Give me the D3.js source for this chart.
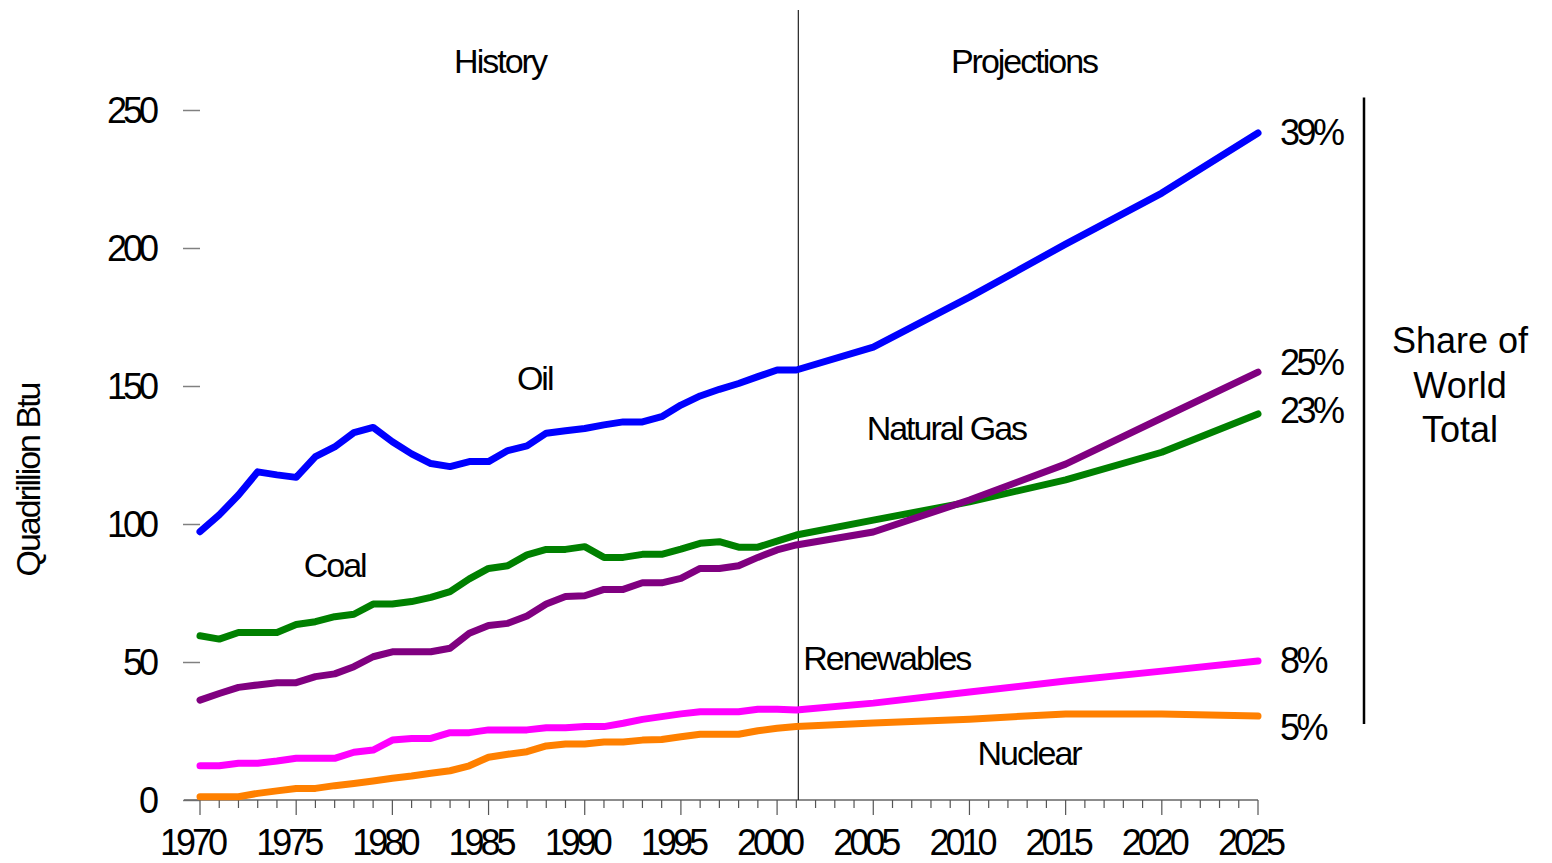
<!DOCTYPE html>
<html>
<head>
<meta charset="utf-8">
<script src="https://cdn.jsdelivr.net/npm/d3@7"></script>
<style>
  body { margin: 0; background: #fff; }
  svg { font-family: "Liberation Sans", Arial, sans-serif; }
  .axis text { font-size: 36px; letter-spacing: -4px; fill: #000; }
  .label { font-size: 34px; letter-spacing: -2px; fill: #000; }
</style>
</head>
<body>
<div id="chart"></div>
<script>

// Data (quadrillion Btu)
var years = d3.range(1970, 2002).concat([2005, 2010, 2015, 2020, 2025]);

var oil = [97.2, 103.3, 110.5, 118.9, 117.8, 116.9, 124.4, 127.9, 133.1, 135.0,
    129.8, 125.4, 121.9, 120.8, 122.6, 122.6, 126.6, 128.3, 132.9, 133.8,
    134.6, 135.9, 137.0, 137.0, 138.9, 143.1, 146.4, 148.8, 150.9, 153.4,
    155.8, 155.8, 164.1, 182.2, 201.4, 219.9, 241.7];

var coal = [59.5, 58.3, 60.7, 60.7, 60.7, 63.6, 64.6, 66.4, 67.3, 71.0,
    71.0, 71.9, 73.4, 75.5, 80.1, 83.9, 84.9, 88.8, 90.8, 90.8,
    91.8, 87.9, 87.9, 89.0, 89.0, 90.9, 93.0, 93.6, 91.6, 91.6,
    93.8, 96.0, 101.4, 108.0, 116.0, 126.0, 139.9];

var gas = [36.2, 38.6, 40.8, 41.7, 42.5, 42.5, 44.7, 45.7, 48.3, 51.9,
    53.7, 53.7, 53.7, 55.0, 60.4, 63.2, 64.0, 66.7, 71.0, 73.7,
    74.0, 76.3, 76.3, 78.7, 78.7, 80.3, 83.9, 83.9, 84.9, 87.9,
    90.6, 92.4, 97.1, 108.7, 121.7, 138.4, 155.0];

var renewables = [12.4, 12.4, 13.3, 13.3, 14.1, 15.1, 15.1, 15.1, 17.3, 18.1,
    21.7, 22.3, 22.3, 24.4, 24.4, 25.4, 25.4, 25.4, 26.2, 26.2,
    26.6, 26.6, 27.8, 29.2, 30.2, 31.2, 32.0, 32.0, 32.0, 32.9,
    32.9, 32.6, 35.1, 39.1, 43.1, 46.7, 50.4];

var nuclear = [1.2, 1.2, 1.2, 2.4, 3.3, 4.2, 4.2, 5.2, 6.0, 6.9,
    7.9, 8.7, 9.7, 10.6, 12.4, 15.5, 16.6, 17.5, 19.6, 20.3,
    20.3, 21.0, 21.0, 21.7, 21.9, 22.9, 23.8, 23.8, 23.8, 25.1,
    26.0, 26.6, 27.9, 29.3, 31.2, 31.2, 30.4];

var seriesNames = ["Oil", "Coal", "Natural Gas", "Renewables", "Nuclear"];
var seriesValues = [oil, coal, gas, renewables, nuclear];
var seriesColors = ["#0000ff", "#008000", "#800080", "#ff00ff", "#ff8000"];

// where the series names sit (year, value of the baseline)
var nameYears = [1987.4, 1977.0, 2008.8, 2005.7, 2013.1];
var nameValues = [148.6, 80.8, 130.4, 47.1, 12.7];

// share of world total in 2025, with the label's vertical spot
var shareLabels = ["39%", "25%", "23%", "8%", "5%"];
var shareLabelValues = [242, 158.7, 141.3, 50.7, 26.4];

var yTicks = [0, 50, 100, 150, 200, 250];
var xTickLabels = d3.range(1970, 2026, 5);
var lastHistoryYear = 2001;

var width = 1552, height = 863;

var svg = d3.select("#chart").append("svg")
    .attr("width", width)
    .attr("height", height);

var x = d3.scaleLinear().domain([1970, 2025]).range([200, 1258]);
var y = d3.scaleLinear().domain([0, 250]).range([800, 110]);

// y axis: ticks only, no spine
var yAxis = d3.axisLeft(y).tickValues(yTicks).tickSize(17).tickPadding(28);
var gy = svg.append("g")
    .attr("class", "axis")
    .attr("transform", "translate(200,0)")
    .call(yAxis);
gy.select(".domain").remove();
gy.selectAll(".tick line").attr("stroke", "#808080").attr("stroke-width", 1.5);
gy.selectAll(".tick text").attr("dy", "0.36em");

// x axis: a tick every year, longer every 5 years
var gx = svg.append("g")
    .attr("class", "axis")
    .attr("transform", "translate(0,800)");
gx.append("line")
    .attr("x1", x(1970) - 16).attr("x2", x(2025))
    .attr("stroke", "#666").attr("stroke-width", 1.5);
gx.selectAll(".yt")
    .data(d3.range(1970, 2026))
    .enter().append("line")
    .attr("class", "yt")
    .attr("x1", function (d) { return x(d); })
    .attr("x2", function (d) { return x(d); })
    .attr("y1", 0)
    .attr("y2", function (d) { return d % 5 === 0 ? 15 : 8; })
    .attr("stroke", "#555").attr("stroke-width", 1.2);
gx.selectAll(".xl")
    .data(xTickLabels)
    .enter().append("text")
    .attr("class", "xl")
    .attr("x", function (d) { return x(d) - 8; })
    .attr("y", 55)
    .attr("text-anchor", "middle")
    .text(function (d) { return d; });

// History / Projections divider
svg.append("line")
    .attr("x1", x(lastHistoryYear) + 2).attr("x2", x(lastHistoryYear) + 2)
    .attr("y1", 10).attr("y2", y(0))
    .attr("stroke", "#222").attr("stroke-width", 1.2);

svg.append("text").attr("class", "label")
    .attr("x", 500).attr("y", 73).attr("text-anchor", "middle")
    .text("History");
svg.append("text").attr("class", "label")
    .attr("x", 1024).attr("y", 73).attr("text-anchor", "middle")
    .text("Projections");

// y axis title
svg.append("text").attr("class", "label")
    .attr("transform", "translate(40,480) rotate(-90)")
    .attr("text-anchor", "middle")
    .text("Quadrillion Btu");

// lines
var line = d3.line()
    .x(function (d, i) { return x(years[i]); })
    .y(function (d) { return y(d); });

seriesValues.forEach(function (vals, i) {
    svg.append("path")
        .attr("d", line(vals))
        .attr("fill", "none")
        .attr("stroke", seriesColors[i])
        .attr("stroke-width", 7)
        .attr("stroke-linecap", "round")
        .attr("stroke-linejoin", "round");
});

// series names
seriesNames.forEach(function (name, i) {
    svg.append("text").attr("class", "label")
        .attr("x", x(nameYears[i]))
        .attr("y", y(nameValues[i]))
        .attr("text-anchor", "middle")
        .text(name);
});

// share labels
shareLabels.forEach(function (s, i) {
    svg.append("text").attr("class", "label")
        .attr("x", x(2025) + 22)
        .attr("y", y(shareLabelValues[i]))
        .attr("dy", "0.36em")
        .style("font-size", "36px")
        .style("letter-spacing", "-3.5px")
        .text(s);
});

// bracket + caption
svg.append("line")
    .attr("x1", 1364).attr("x2", 1364)
    .attr("y1", y(254.5)).attr("y2", y(27.5))
    .attr("stroke", "#000").attr("stroke-width", 2.5);

var cap = svg.append("text")
    .attr("text-anchor", "middle")
    .style("font-size", "36px")
    .attr("x", 1460).attr("y", 353);
["Share of", "World", "Total"].forEach(function (t, i) {
    cap.append("tspan").attr("x", 1460).attr("dy", i === 0 ? 0 : 44.5).text(t);
});

</script>
</body>
</html>
